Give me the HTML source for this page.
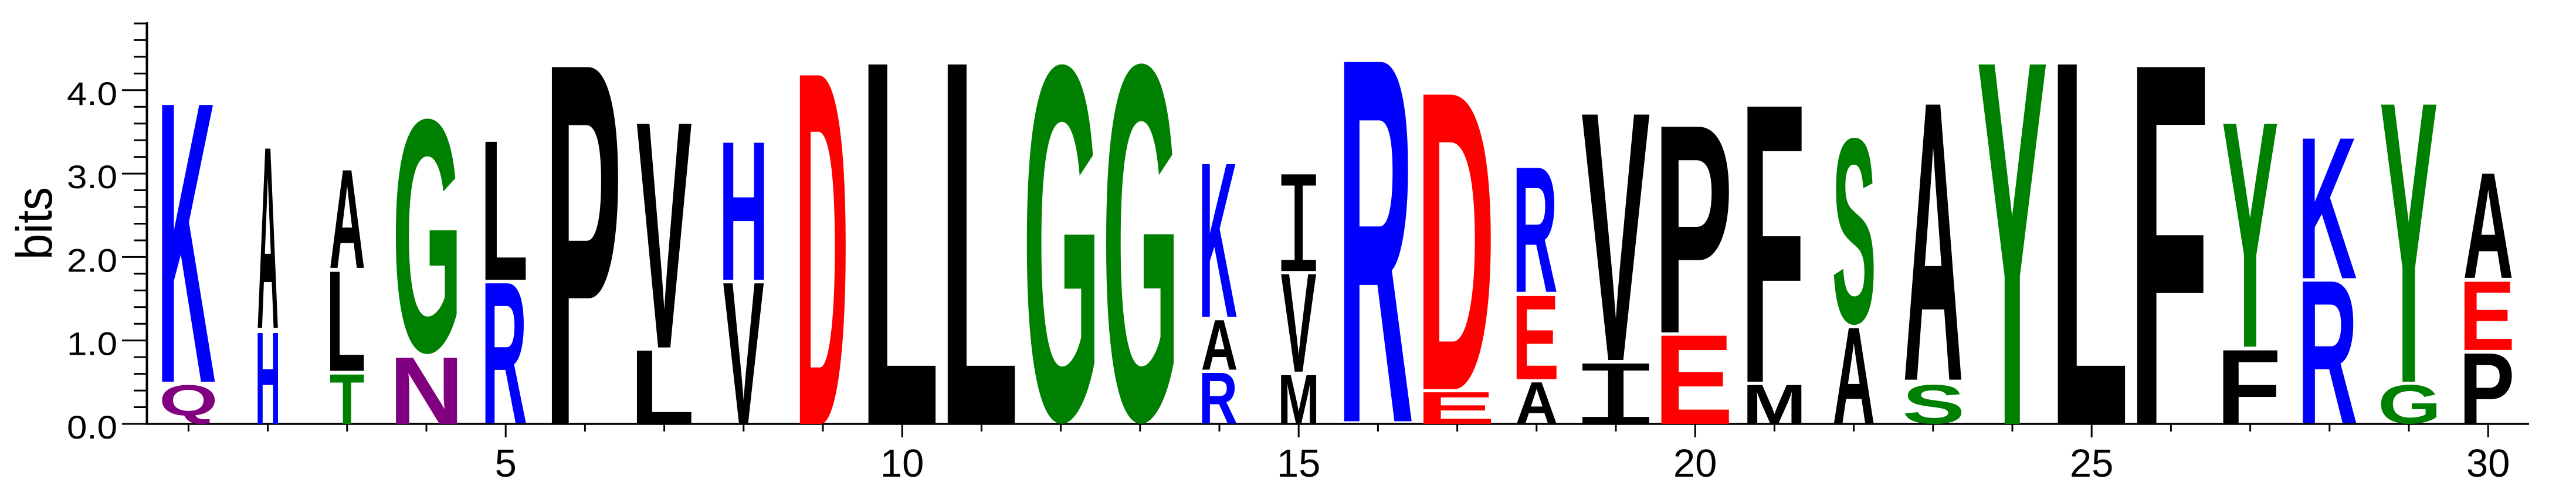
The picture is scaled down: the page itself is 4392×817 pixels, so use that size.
<!DOCTYPE html>
<html><head><meta charset="utf-8"><style>
html,body{margin:0;padding:0;background:#fff;width:4392px;height:817px;overflow:hidden;}
svg{display:block;}
</style></head><body>
<svg id="logo" width="4392" height="817" viewBox="0 0 4392 817" xmlns="http://www.w3.org/2000/svg">
<g id="axes"></g>
<g id="letters"></g>
<text transform="translate(88,381) rotate(-90)" text-anchor="middle" font-family="Liberation Sans, sans-serif" font-size="86" textLength="124" lengthAdjust="spacingAndGlyphs">bits</text>
</svg>
<script>
// Data: per position, letters bottom-to-top with heights (bits)
const positions = [1,2,3,4,5,6,7,8,9,10,11,12,13,14,15,16,17,18,19,20,21,22,23,24,25,26,27,28,29,30];
const stackLetters = [
 ["Q","K"],["H","A"],["T","L","A"],["N","G"],["R","L"],["P"],["L","V"],["V","H"],["D"],["L"],
 ["L"],["G"],["G"],["R","A","K"],["M","V","I"],["R"],["E","D"],["A","E","R"],["I","V"],["E","P"],
 ["M","F"],["A","S"],["S","A"],["Y"],["L"],["F"],["F","Y"],["R","K"],["G","Y"],["P","E","A"]
];
const stackHeights = [
 [0.47,3.35],[1.10,2.17],[0.60,1.19,1.18],[0.80,2.83],[1.69,1.66],[4.32],[0.88,2.69],[1.69,1.66],[4.19],[4.32],
 [4.32],[4.32],[4.33],[0.61,0.60,1.85],[0.59,1.17,1.17],[4.35],[0.38,3.54],[0.50,1.00,1.50],[0.73,2.95],[1.06,2.49],
 [0.47,3.33],[1.15,2.25],[0.47,3.33],[4.32],[4.32],[4.32],[0.89,2.68],[1.71,1.69],[0.47,3.33],[0.85,0.82,1.26]
];
const columnWidthFrac = [0.78,0.30,0.50,0.90,0.60,0.98,0.81,0.60,0.68,1,1,1,1,0.51,0.52,1,1,0.59,1,1,0.80,0.59,0.84,1,1,1,0.80,0.79,0.82,0.70];
const yTicks = [0,1,2,3,4];
const yTickLabels = ["0.0","1.0","2.0","3.0","4.0"];
const xTickLabels = [5,10,15,20,25,30];

// Layout
const X0 = 321.4, DX = 135.2, Y0 = 723, PXB = 142.3, FULLW = 116, GAP = 0.036;
const xs = p => X0 + (p-1)*DX;
const ys = b => Y0 - b*PXB;
const colors = {K:"#0000ff",R:"#0000ff",H:"#0000ff",D:"#ff0000",E:"#ff0000",G:"#008000",S:"#008000",T:"#008000",Y:"#008000",C:"#008000",N:"#800080",Q:"#800080"};
const NS = "http://www.w3.org/2000/svg";
const cv = document.createElement('canvas').getContext('2d');
function fam(l){ return l==="I" ? "'Liberation Mono', monospace" : "'Liberation Sans', sans-serif"; }
function wt(l){ return l==="I" ? "normal" : "bold"; }
function metrics(l){
  cv.font = wt(l) + " 200px " + fam(l);
  const m = cv.measureText(l);
  return {l:m.actualBoundingBoxLeft, r:m.actualBoundingBoxRight, a:m.actualBoundingBoxAscent, d:m.actualBoundingBoxDescent};
}
const axes = document.getElementById('axes');
function line(x1,y1,x2,y2,w,name){
  const e = document.createElementNS(NS,'line');
  e.setAttribute('x1',x1);e.setAttribute('y1',y1);e.setAttribute('x2',x2);e.setAttribute('y2',y2);
  e.setAttribute('stroke','#000');e.setAttribute('stroke-width',w);
  
  
  axes.appendChild(e);
}
function txt(x,y,s,size,anchor,name,tl){
  const e = document.createElementNS(NS,'text');
  e.setAttribute('x',x);e.setAttribute('y',y);e.setAttribute('font-size',size);
  e.setAttribute('font-family','Liberation Sans, sans-serif');e.setAttribute('text-anchor',anchor);
  if(tl){e.setAttribute('textLength',tl);e.setAttribute('lengthAdjust','spacingAndGlyphs');}
  e.textContent = s;
  
  
  axes.appendChild(e);
}
// Y axis
line(250.5, 38, 250.5, 724.5, 4, 'y-axis-line');
for(let v=0; v<=24; v++){
  const b = v*0.2, major = v%5===0;
  line(major?208:228, ys(b), 252, ys(b), 3, major?'y-major-tick':'y-minor-tick');
}
yTicks.forEach((b,i)=>txt(200, ys(b)+25, yTickLabels[i], 56, 'end', 'y-tick-label', 86));
// X axis
line(248, Y0, 4312, Y0, 3.5, 'x-axis-line');
positions.forEach(p=>{
  const major = xTickLabels.indexOf(p)>=0;
  line(xs(p), Y0, xs(p), major?746:736, 3, major?'x-major-tick':'x-minor-tick');
});
xTickLabels.forEach(p=>txt(xs(p), 813, String(p), 67, 'middle', 'x-tick-label'));
// Letters
const lg = document.getElementById('letters');
positions.forEach((p,i)=>{
  const g = document.createElementNS(NS,'g');
  
  
  lg.appendChild(g);
  let base = 0;
  const w = FULLW*columnWidthFrac[i];
  stackLetters[i].forEach((L,j)=>{
    const h = stackHeights[i][j];
    const top = base + h;
    const bx = xs(p) - w/2, by = ys(top), bh = h*PXB;
    const m = metrics(L);
    const sx = w/(m.l+m.r), sy = bh/(m.a+m.d);
    const t = document.createElementNS(NS,'text');
    t.setAttribute('font-size','200');
    t.setAttribute('font-weight', wt(L));
    t.setAttribute('font-family', fam(L));
    t.setAttribute('fill', colors[L]||'#000');
    t.setAttribute('transform', `translate(${bx + m.l*sx},${by + m.a*sy}) scale(${sx},${sy})`);
    t.textContent = L;
    
    
    g.appendChild(t);
    base = top + GAP;
  });
});
</script>
</body></html>
